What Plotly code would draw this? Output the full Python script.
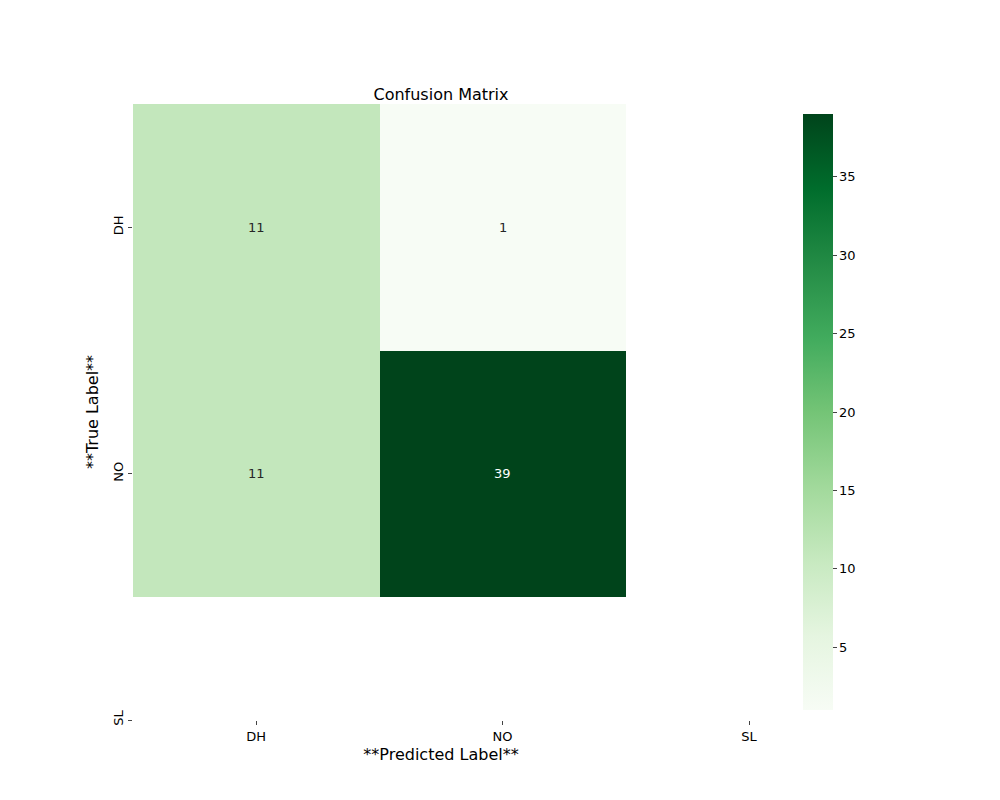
import plotly.graph_objects as go
import plotly.express as px

tick_labels = ['DH', 'NO', 'SL']
cell_pos = [0.5, 1.5]
counts = [[11, 1],
          [11, 39]]


def make_figure():
    fig = go.Figure()
    fig.add_trace(go.Heatmap(
        x=cell_pos, y=cell_pos, z=counts,
        colorscale=px.colors.sequential.Greens,
        zmin=1, zmax=39, xgap=0, ygap=0,
        colorbar=dict(x=1.071, xanchor='left', y=0, yanchor='bottom',
                      len=1, lenmode='fraction', thickness=30,
                      outlinewidth=0, ticks='outside', ticklen=4,
                      tickvals=[5, 10, 15, 20, 25, 30, 35]),
        hoverinfo='skip',
    ))
    for i, row in enumerate(counts):
        for j, v in enumerate(row):
            fig.add_annotation(x=cell_pos[j], y=cell_pos[i], text=str(v),
                               showarrow=False,
                               font=dict(size=13, color='white' if v > 25 else '#262626'))
    fig.update_layout(
        width=1000, height=800,
        margin=dict(l=125, r=259, t=96, b=88),
        plot_bgcolor='white', paper_bgcolor='white',
        font=dict(family='DejaVu Sans', size=13, color='black'),
        title=dict(text='Confusion Matrix', x=0.5, xref='paper', xanchor='center',
                   y=1, yref='paper', yanchor='bottom', pad=dict(b=4),
                   font=dict(size=16)),
        showlegend=False,
    )
    fig.update_xaxes(range=[0, 2.5], tickvals=[0.5, 1.5, 2.5], ticktext=tick_labels,
                     ticks='outside', ticklen=4, showgrid=False, zeroline=False,
                     showline=False, title=dict(text='**Predicted Label**', standoff=6))
    fig.update_yaxes(range=[2.5, 0], tickvals=[0.5, 1.5, 2.5], ticktext=tick_labels,
                     tickangle=-90, ticks='outside', ticklen=4, showgrid=False,
                     zeroline=False, showline=False,
                     title=dict(text='**True Label**', standoff=8))
    return fig


def main():
    fig = make_figure()
    fig.write_html('out.html')


if __name__ == '__main__':
    main()
